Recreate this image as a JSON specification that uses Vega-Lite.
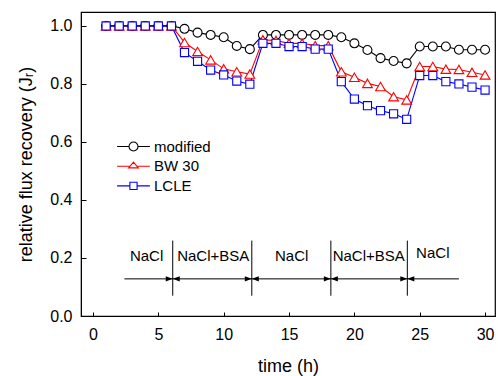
{
  "$schema": "https://vega.github.io/schema/vega-lite/v6.json",
  "width": 414,
  "height": 304,
  "autosize": "none",
  "padding": {"left": 81, "top": 12, "right": 3, "bottom": 60},
  "background": "white",
  "config": {
    "view": {"stroke": "black", "strokeWidth": 1.2},
    "font": "Liberation Sans",
    "axis": {"grid": false, "domainColor": "black", "tickColor": "black", "labelColor": "black", "titleColor": "black", "labelFont": "Liberation Sans", "titleFont": "Liberation Sans", "labelFontSize": 16, "titleFontSize": 18, "titleFontWeight": "normal"},
    "legend": {
      "title": null, "orient": "none", "legendX": 45, "legendY": 127, "padding": 0,
      "labelFontSize": 15, "labelFont": "Liberation Sans", "labelColor": "black",
      "labelOffset": 13, "rowPadding": 3.7, "symbolSize": 64
    }
  },
  "datasets": {
    "flux": [
      {"series": "modified", "time": 1, "jr": 1.0}, {"series": "modified", "time": 2, "jr": 1.0}, {"series": "modified", "time": 3, "jr": 1.0}, {"series": "modified", "time": 4, "jr": 1.0}, {"series": "modified", "time": 5, "jr": 1.0}, {"series": "modified", "time": 6, "jr": 1.0},
      {"series": "modified", "time": 7, "jr": 0.99}, {"series": "modified", "time": 8, "jr": 0.977}, {"series": "modified", "time": 9, "jr": 0.969}, {"series": "modified", "time": 10, "jr": 0.961}, {"series": "modified", "time": 11, "jr": 0.931}, {"series": "modified", "time": 12, "jr": 0.92},
      {"series": "modified", "time": 13, "jr": 0.969}, {"series": "modified", "time": 14, "jr": 0.969}, {"series": "modified", "time": 15, "jr": 0.969}, {"series": "modified", "time": 16, "jr": 0.969}, {"series": "modified", "time": 17, "jr": 0.969}, {"series": "modified", "time": 18, "jr": 0.969},
      {"series": "modified", "time": 19, "jr": 0.961}, {"series": "modified", "time": 20, "jr": 0.94}, {"series": "modified", "time": 21, "jr": 0.917}, {"series": "modified", "time": 22, "jr": 0.889}, {"series": "modified", "time": 23, "jr": 0.879}, {"series": "modified", "time": 24, "jr": 0.871},
      {"series": "modified", "time": 25, "jr": 0.929}, {"series": "modified", "time": 26, "jr": 0.929}, {"series": "modified", "time": 27, "jr": 0.929}, {"series": "modified", "time": 28, "jr": 0.918}, {"series": "modified", "time": 29, "jr": 0.918}, {"series": "modified", "time": 30, "jr": 0.918},
      {"series": "BW 30", "time": 1, "jr": 1.0}, {"series": "BW 30", "time": 2, "jr": 1.0}, {"series": "BW 30", "time": 3, "jr": 1.0}, {"series": "BW 30", "time": 4, "jr": 1.0}, {"series": "BW 30", "time": 5, "jr": 1.0}, {"series": "BW 30", "time": 6, "jr": 1.0},
      {"series": "BW 30", "time": 7, "jr": 0.943}, {"series": "BW 30", "time": 8, "jr": 0.912}, {"series": "BW 30", "time": 9, "jr": 0.883}, {"series": "BW 30", "time": 10, "jr": 0.852}, {"series": "BW 30", "time": 11, "jr": 0.842}, {"series": "BW 30", "time": 12, "jr": 0.834},
      {"series": "BW 30", "time": 13, "jr": 0.952}, {"series": "BW 30", "time": 14, "jr": 0.95}, {"series": "BW 30", "time": 15, "jr": 0.94}, {"series": "BW 30", "time": 16, "jr": 0.94}, {"series": "BW 30", "time": 17, "jr": 0.932}, {"series": "BW 30", "time": 18, "jr": 0.932},
      {"series": "BW 30", "time": 19, "jr": 0.842}, {"series": "BW 30", "time": 20, "jr": 0.823}, {"series": "BW 30", "time": 21, "jr": 0.802}, {"series": "BW 30", "time": 22, "jr": 0.791}, {"series": "BW 30", "time": 23, "jr": 0.756}, {"series": "BW 30", "time": 24, "jr": 0.745},
      {"series": "BW 30", "time": 25, "jr": 0.86}, {"series": "BW 30", "time": 26, "jr": 0.86}, {"series": "BW 30", "time": 27, "jr": 0.851}, {"series": "BW 30", "time": 28, "jr": 0.85}, {"series": "BW 30", "time": 29, "jr": 0.84}, {"series": "BW 30", "time": 30, "jr": 0.831},
      {"series": "LCLE", "time": 1, "jr": 1.0}, {"series": "LCLE", "time": 2, "jr": 1.0}, {"series": "LCLE", "time": 3, "jr": 1.0}, {"series": "LCLE", "time": 4, "jr": 1.0}, {"series": "LCLE", "time": 5, "jr": 1.0}, {"series": "LCLE", "time": 6, "jr": 1.0},
      {"series": "LCLE", "time": 7, "jr": 0.908}, {"series": "LCLE", "time": 8, "jr": 0.878}, {"series": "LCLE", "time": 9, "jr": 0.848}, {"series": "LCLE", "time": 10, "jr": 0.831}, {"series": "LCLE", "time": 11, "jr": 0.81}, {"series": "LCLE", "time": 12, "jr": 0.799},
      {"series": "LCLE", "time": 13, "jr": 0.94}, {"series": "LCLE", "time": 14, "jr": 0.94}, {"series": "LCLE", "time": 15, "jr": 0.929}, {"series": "LCLE", "time": 16, "jr": 0.929}, {"series": "LCLE", "time": 17, "jr": 0.92}, {"series": "LCLE", "time": 18, "jr": 0.92},
      {"series": "LCLE", "time": 19, "jr": 0.808}, {"series": "LCLE", "time": 20, "jr": 0.748}, {"series": "LCLE", "time": 21, "jr": 0.725}, {"series": "LCLE", "time": 22, "jr": 0.708}, {"series": "LCLE", "time": 23, "jr": 0.697}, {"series": "LCLE", "time": 24, "jr": 0.678},
      {"series": "LCLE", "time": 25, "jr": 0.829}, {"series": "LCLE", "time": 26, "jr": 0.829}, {"series": "LCLE", "time": 27, "jr": 0.808}, {"series": "LCLE", "time": 28, "jr": 0.8}, {"series": "LCLE", "time": 29, "jr": 0.789}, {"series": "LCLE", "time": 30, "jr": 0.779}
    ],
    "bounds": [
      {"time": 6.1, "low": 0.07, "high": 0.26},
      {"time": 12.15, "low": 0.07, "high": 0.26},
      {"time": 18.2, "low": 0.07, "high": 0.26},
      {"time": 24.05, "low": 0.07, "high": 0.26}
    ],
    "span": [{"start": 2.4, "end": 28.0, "level": 0.128}],
    "stages": [
      {"stage": "NaCl", "time": 4.1, "level": 0.208},
      {"stage": "NaCl+BSA", "time": 9.2, "level": 0.208},
      {"stage": "NaCl", "time": 15.2, "level": 0.208},
      {"stage": "NaCl+BSA", "time": 21.1, "level": 0.208},
      {"stage": "NaCl", "time": 26.0, "level": 0.216}
    ]
  },
  "layer": [
    {
      "data": {"name": "span"},
      "mark": {"type": "rule", "color": "black", "strokeWidth": 1},
      "encoding": {
        "x": {"field": "start", "type": "quantitative"},
        "x2": {"field": "end"},
        "y": {"field": "level", "type": "quantitative"}
      }
    },
    {
      "data": {"name": "bounds"},
      "mark": {"type": "rule", "color": "black", "strokeWidth": 1},
      "encoding": {
        "x": {"field": "time", "type": "quantitative"},
        "y": {"field": "low", "type": "quantitative"},
        "y2": {"field": "high"}
      }
    },
    {
      "data": {"name": "bounds"},
      "mark": {"type": "point", "shape": "M0,0L-2,-0.75L-2,0.75Z", "filled": true, "color": "black", "size": 49, "opacity": 1},
      "encoding": {
        "x": {"field": "time", "type": "quantitative"},
        "y": {"datum": 0.128, "type": "quantitative"}
      }
    },
    {
      "data": {"name": "bounds"},
      "mark": {"type": "point", "shape": "M0,0L2,-0.75L2,0.75Z", "filled": true, "color": "black", "size": 49, "opacity": 1},
      "encoding": {
        "x": {"field": "time", "type": "quantitative"},
        "y": {"datum": 0.128, "type": "quantitative"}
      }
    },
    {
      "data": {"name": "stages"},
      "mark": {"type": "text", "font": "Liberation Sans", "fontSize": 15, "color": "black", "align": "center", "baseline": "middle"},
      "encoding": {
        "x": {"field": "time", "type": "quantitative"},
        "y": {"field": "level", "type": "quantitative"},
        "text": {"field": "stage"}
      }
    },
    {
      "data": {"name": "flux"},
      "mark": {"type": "line", "strokeWidth": 1.1},
      "encoding": {
        "x": {"field": "time", "type": "quantitative"},
        "y": {"field": "jr", "type": "quantitative"},
        "detail": {"field": "series"},
        "stroke": {"field": "series", "type": "nominal", "scale": {"domain": ["modified", "BW 30", "LCLE"], "range": ["#000000", "#ff0000", "#0000ff"]}}
      }
    },
    {
      "data": {"name": "flux"},
      "mark": {"type": "point", "filled": false, "fill": "white", "fillOpacity": 1, "strokeWidth": 1.1, "opacity": 1},
      "encoding": {
        "x": {
          "field": "time", "type": "quantitative",
          "scale": {"domain": [-0.92, 30.76], "nice": false, "zero": false},
          "axis": {
            "title": "time (h)",
            "values": [0, 2.5, 5, 7.5, 10, 12.5, 15, 17.5, 20, 22.5, 25, 27.5, 30],
            "labelExpr": "datum.value % 5 === 0 ? format(datum.value, 'd') : ''",
            "tickSize": {"condition": {"test": "datum.value % 5 === 0", "value": -4}, "value": -2},
            "labelPadding": 14,
            "titlePadding": 15,
            "domain": true
          }
        },
        "y": {
          "field": "jr", "type": "quantitative",
          "scale": {"domain": [0, 1.048], "nice": false, "zero": true},
          "axis": {
            "title": "relative flux recovery (Jᵣ)",
            "values": [0, 0.1, 0.2, 0.3, 0.4, 0.5, 0.6, 0.7, 0.8, 0.9, 1.0],
            "labelExpr": "round(datum.value * 10) % 2 === 0 ? format(datum.value, '.1f') : ''",
            "tickSize": {"condition": {"test": "round(datum.value * 10) % 2 === 0", "value": -5}, "value": -3},
            "labelPadding": 14,
            "titlePadding": 14
          }
        },
        "stroke": {
          "field": "series", "type": "nominal",
          "scale": {"domain": ["modified", "BW 30", "LCLE"], "range": ["#000000", "#ff0000", "#0000ff"]},
          "legend": {
            "symbolType": {"expr": "datum.value === 'modified' ? 'M-4.1,0H-1.125M1.125,0H4.1M1.125,0A1.125,1.125 0 1,1 -1.125,0A1.125,1.125 0 1,1 1.125,0Z' : datum.value === 'BW 30' ? 'M-4.1,0H-0.85M0.85,0H4.1M-1.2,0.42L0,-1.0L1.2,0.42Z' : 'M-4.1,0H-0.9M0.9,0H4.1M-0.9,-0.9H0.9V0.9H-0.9Z'"},
            "symbolSize": 64,
            "symbolFillColor": "white",
            "symbolStrokeWidth": 1.1
          }
        },
        "shape": {
          "field": "series", "type": "nominal",
          "scale": {"domain": ["LCLE", "BW 30", "modified"], "range": ["square", "triangle-up", "circle"]},
          "legend": null
        },
        "size": {
          "field": "series", "type": "nominal",
          "scale": {"domain": ["BW 30", "modified", "LCLE"], "range": [95, 66, 60]},
          "legend": null
        }
      }
    }
  ]
}
